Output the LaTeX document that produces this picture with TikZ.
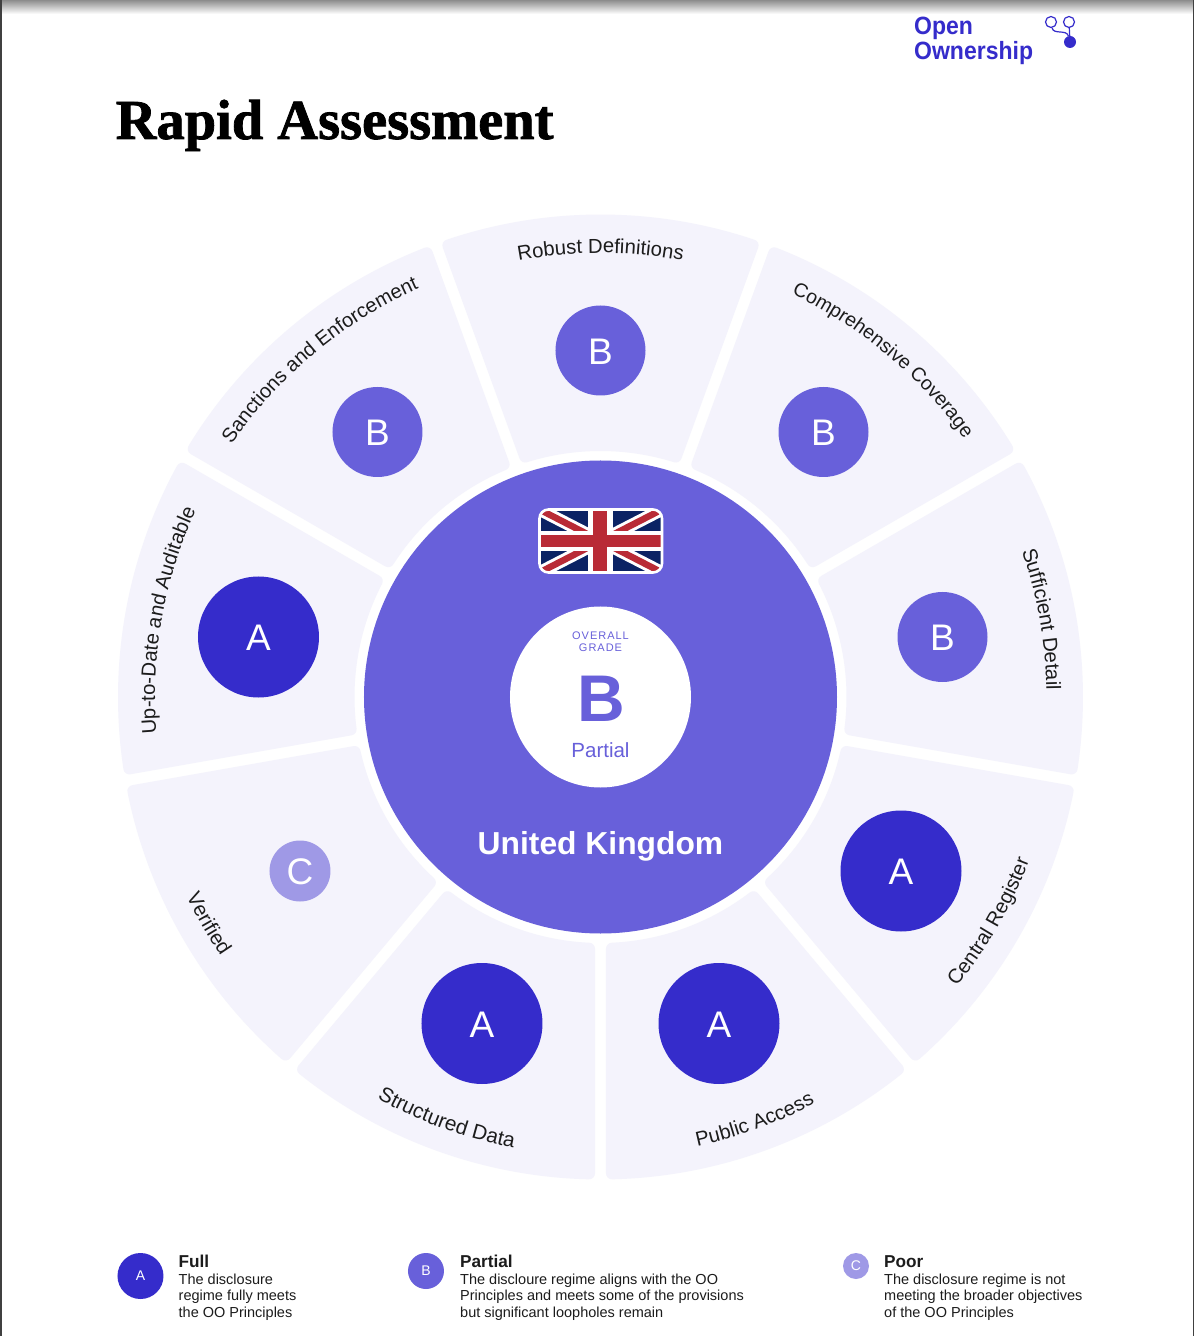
\documentclass[tikz,border=0pt]{standalone}
\usepackage{fontspec}
\usetikzlibrary{decorations.text}
\setmainfont{Liberation Sans}
\newfontfamily\titlefont[FakeBold=1.4]{Liberation Serif Bold}
\newfontfamily\logofont[FakeStretch=0.92]{Liberation Sans Bold}
\definecolor{gradeA}{HTML}{352CCB}
\definecolor{gradeB}{HTML}{6860DA}
\definecolor{gradeC}{HTML}{9F99E6}
\definecolor{sectorbg}{HTML}{F4F3FC}
\definecolor{flagnavy}{HTML}{0B2364}
\definecolor{flagred}{HTML}{B92B36}
\definecolor{inktext}{HTML}{1C1C1C}
\newcommand{\fsz}[1]{\fontsize{#1}{#1}\selectfont}
\newcommand{\gl}[1]{\raisebox{-1pt}[\height][0pt]{#1}}
\tikzset{
  x=1pt,y=1pt,
  sectorfill/.style={fill=sectorbg,draw=sectorbg,line width=12pt,line join=round},
  gradecircle/.style={circle,inner sep=0pt,text=white,font=\fsz{#1}},
  bignode/.style={gradecircle=37,minimum size=121pt,fill=gradeA},
  midnode/.style={gradecircle=37,minimum size=90pt,fill=gradeB},
  smallnode/.style={gradecircle=37,minimum size=61pt,fill=gradeC},
  legendhead/.style={anchor=base west,inner sep=0pt,text=inktext,font=\fsz{17.2}\bfseries},
  legendline/.style={anchor=base west,inner sep=0pt,text=inktext,font=\fsz{14.5}},
  arclabel/.style 2 args={decorate,decoration={text along path,text align=center,text color=inktext,text={|\fsz{#1}|#2}}},
  logotext/.style={anchor=base west,inner sep=0pt,text=gradeA,font=\logofont\fsz{25}}
}
\begin{document}
\begin{tikzpicture}
\useasboundingbox (-600.5,-639) rectangle (593.5,697);
% page edge shadow
\fill[white] (-600.5,-639) rectangle (593.5,697);
\shade[top color=black!45,bottom color=white] (-600.5,697) rectangle (593.5,683);
\fill[black!75] (-600.5,-639) rectangle (-598.5,697);
\fill[black!75] (592,-639) rectangle (593.5,697);
% sectors
\foreach \a/\b in {110/70,70/30,30/-10,-10/-50,-50/-90,-90/-130,-130/-170,-170/-210,-210/-250}{
  \pgfmathsetmacro\ao{\a-asin(11.5/476.5)}
  \pgfmathsetmacro\bo{\b+asin(11.5/476.5)}
  \pgfmathsetmacro\ai{\a-asin(11.5/252)}
  \pgfmathsetmacro\bi{\b+asin(11.5/252)}
  \path[sectorfill] (\ao:476.5) arc[start angle=\ao,end angle=\bo,radius=476.5]
     -- (\bi:252) arc[start angle=\bi,end angle=\ai,radius=252] -- cycle;
}
% centre
\node[circle,fill=gradeB,minimum size=473pt,inner sep=0pt] (centre) at (0,0) {};
\node[circle,fill=white,minimum size=181pt,inner sep=0pt] (gradedisc) at (0,0) {};
\node[inner sep=0pt,text=gradeB,font=\fsz{11},align=center] (overall) at (0,55.5)
  {\addfontfeatures{LetterSpace=9}OVERALL\\[0.9pt]\addfontfeatures{LetterSpace=9}GRADE};
\node[inner sep=0pt,text=gradeB,font=\fsz{66}\bfseries] (bigB) at (0.5,-2) {B};
\node[inner sep=0pt,text=gradeB,font=\fsz{20.5}] (partial) at (0,-53.5) {Partial};
\node[inner sep=0pt,text=white,font=\fsz{31.8}\bfseries] (country) at (0,-149) {United Kingdom};
% flag
\begin{scope}
\path[clip,rounded corners=9pt] (-61,187.5) rectangle (61.5,124.5);
\fill[flagnavy] (-61,187.5) rectangle (61.5,124.5);
\draw[white,line width=12.5pt] (-61,187.5) -- (61.5,124.5);
\draw[white,line width=12.5pt] (-61,124.5) -- (61.5,187.5);
\draw[flagred,line width=6.5pt] (-61,187.5) -- (61.5,124.5);
\draw[flagred,line width=6.5pt] (-61,124.5) -- (61.5,187.5);
\fill[white] (-12.5,124.5) rectangle (12.5,187.5);
\fill[white] (-61,146) rectangle (61.5,165.5);
\fill[flagred] (-7,124.5) rectangle (6.5,187.5);
\fill[flagred] (-61,150) rectangle (61.5,162);
\end{scope}
\draw[white,line width=2.6pt,rounded corners=9pt] (-61,187.5) rectangle (61.5,124.5);
% grade circles
\node[midnode] (robust) at (0,346.5) {\gl{B}};
\node[midnode] (compre) at (223,265) {\gl{B}};
\node[midnode] (suffic) at (342,60) {\gl{B}};
\node[bignode] (central) at (300.5,-174) {\gl{A}};
\node[bignode] (public) at (118.5,-326.5) {\gl{A}};
\node[bignode] (struct) at (-118.5,-326.5) {\gl{A}};
\node[smallnode] (verif) at (-300.5,-174) {\gl{C}};
\node[bignode] (uptod) at (-342,60) {\gl{A}};
\node[midnode] (sanct) at (-223,265) {\gl{B}};
% curved labels
\path[arclabel={20.3}{Robust Definitions}] (125:444) arc[start angle=125,end angle=55,radius=444];
\path[arclabel={19.6}{Comprehensive Coverage}] (85:446) arc[start angle=85,end angle=15,radius=446];
\path[arclabel={20.4}{Sufficient Detail}] (45:446) arc[start angle=45,end angle=-25,radius=446];
\path[arclabel={20.2}{Central Register}] (-65:459) arc[start angle=-65,end angle=5,radius=459];
\path[arclabel={20.2}{Public Access}] (-105:459.5) arc[start angle=-105,end angle=-35,radius=459.5];
\path[arclabel={20.8}{Structured Data}] (-145:459.5) arc[start angle=-145,end angle=-75,radius=459.5];
\path[arclabel={20.4}{Verified}] (-185:459.5) arc[start angle=-185,end angle=-115,radius=459.5];
\path[arclabel={20.3}{Up-to-Date and Auditable}] (205:445.5) arc[start angle=205,end angle=135,radius=445.5];
\path[arclabel={20.1}{Sanctions and Enforcement}] (164.8:447) arc[start angle=164.8,end angle=94.8,radius=447];
% title and logo
\node[anchor=base west,inner sep=0pt,font=\titlefont\fsz{56.5}] (title) at (-485,558) {Rapid Assessment};
\node[logotext] (logoa) at (313.5,662) {Open};
\node[logotext] (logob) at (313.5,637) {Ownership};
\node[circle,draw=gradeA,line width=1.2pt,fill=white,minimum size=11pt,inner sep=0pt] (ringa) at (450.5,675) {};
\node[circle,draw=gradeA,line width=1.2pt,fill=white,minimum size=11pt,inner sep=0pt] (ringb) at (468.5,675) {};
\node[circle,fill=gradeA,minimum size=12pt,inner sep=0pt] (ringc) at (469.5,655) {};
\draw[gradeA,line width=1.2pt] (ringb) -- (ringc);
\draw[gradeA,line width=1.2pt] (ringa) .. controls (453,662) and (466,668) .. (ringc);
% legend
\node[circle,fill=gradeA,text=white,minimum size=46pt,inner sep=0pt,font=\fsz{14}] (lega) at (-460,-579) {A};
\node[circle,fill=gradeB,text=white,minimum size=36pt,inner sep=0pt,font=\fsz{14}] (legb) at (-174.5,-574) {B};
\node[circle,fill=gradeC,text=white,minimum size=26pt,inner sep=0pt,font=\fsz{14}] (legc) at (255.5,-569) {C};
\node[legendhead] (fullh) at (-422,-570) {Full};
\node[legendline] (full1) at (-422,-587) {The disclosure};
\node[legendline] (full2) at (-422,-603.5) {regime fully meets};
\node[legendline] (full3) at (-422,-620) {the OO Principles};
\node[legendhead] (parth) at (-140.5,-570) {Partial};
\node[legendline] (part1) at (-140.5,-587) {The discloure regime aligns with the OO};
\node[legendline] (part2) at (-140.5,-603.5) {Principles and meets some of the provisions};
\node[legendline] (part3) at (-140.5,-620) {but significant loopholes remain};
\node[legendhead] (poorh) at (283.5,-570) {Poor};
\node[legendline] (poor1) at (283.5,-587) {The disclosure regime is not};
\node[legendline] (poor2) at (283.5,-603.5) {meeting the broader objectives};
\node[legendline] (poor3) at (283.5,-620) {of the OO Principles};
\end{tikzpicture}
\end{document}
